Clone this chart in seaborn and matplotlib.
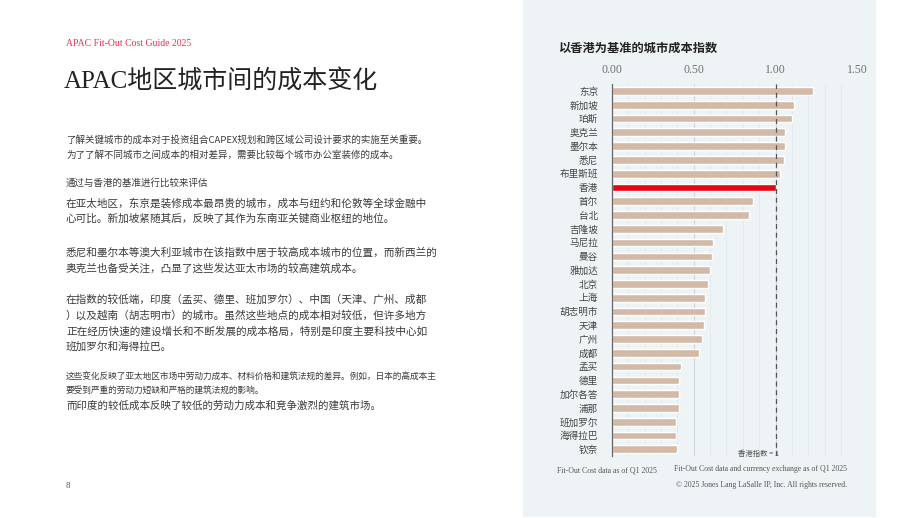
import numpy as np
import pandas as pd
import seaborn as sns
from matplotlib import pyplot as plt
from matplotlib.patches import Rectangle
from matplotlib.ticker import MultipleLocator

# City cost index, Hong Kong = 1
cities = ['东京', '新加坡', '珀斯', '奥克兰', '墨尔本', '悉尼', '布里斯班', '香港',
          '首尔', '台北', '吉隆坡', '马尼拉', '曼谷', '雅加达', '北京', '上海',
          '胡志明市', '天津', '广州', '成都', '孟买', '德里', '加尔各答', '浦那',
          '班加罗尔', '海得拉巴', '钦奈']
index_values = [1.23, 1.11, 1.10, 1.06, 1.06, 1.05, 1.03, 1.00,
                0.86, 0.84, 0.68, 0.62, 0.61, 0.60, 0.59, 0.57,
                0.57, 0.56, 0.55, 0.53, 0.42, 0.41, 0.41, 0.41,
                0.39, 0.39, 0.40]
x_ticks = [0.0, 0.5, 1.0, 1.5]
x_tick_labels = ['0.00', '0.50', '1.00', '1.50']

df = pd.DataFrame({'city': cities, 'index': index_values})

sns.set_theme(style="white")
plt.rcParams['font.family'] = ['Noto Sans CJK SC', 'DejaVu Sans']
serif = ['Liberation Serif', 'Noto Sans CJK SC']

W, H = 920, 518
fig = plt.figure(figsize=(W / 100, H / 100), dpi=100)
fig.patch.set_facecolor('white')

def fy(y):
    return 1 - y / H

def fx(x):
    return x / W

# right panel background
fig.patches.append(Rectangle((fx(523), fy(517)), fx(876) - fx(523), fy(0) - fy(517),
                             transform=fig.transFigure, facecolor='#eef4f6',
                             edgecolor='none', zorder=-5))

# ---- left side text ----
fig.text(fx(66), fy(43), 'APAC Fit-Out Cost Guide 2025', color='#e8334a',
         fontsize=7, family=serif, va='center')
fig.text(fx(64), fy(81), 'APAC地区城市间的成本变化', color='#222222',
         fontsize=18, family=serif, va='center')

body = '#3a3a3a'
lines = [
    (140, '了解关键城市的成本对于投资组合CAPEX规划和跨区域公司设计要求的实施至关重要。', 6.8),
    (155, '为了了解不同城市之间成本的相对差异，需要比较每个城市办公室装修的成本。', 6.8),
    (183, '通过与香港的基准进行比较来评估', 6.8),
    (203, '在亚太地区，东京是装修成本最昂贵的城市，成本与纽约和伦敦等全球金融中', 7.65),
    (219, '心可比。新加坡紧随其后，反映了其作为东南亚关键商业枢纽的地位。', 7.65),
    (252, '悉尼和墨尔本等澳大利亚城市在该指数中居于较高成本城市的位置，而新西兰的', 7.65),
    (268, '奥克兰也备受关注，凸显了这些发达亚太市场的较高建筑成本。', 7.65),
    (299, '在指数的较低端，印度（孟买、德里、班加罗尔）、中国（天津、广州、成都', 7.65),
    (315, '）以及越南（胡志明市）的城市。虽然这些地点的成本相对较低，但许多地方', 7.65),
    (331, '正在经历快速的建设增长和不断发展的成本格局，特别是印度主要科技中心如', 7.65),
    (347, '班加罗尔和海得拉巴。', 7.65),
    (376, '这些变化反映了亚太地区市场中劳动力成本、材料价格和建筑法规的差异。例如，日本的高成本主', 6.25),
    (390, '要受到严重的劳动力短缺和严格的建筑法规的影响。', 6.25),
    (406, '而印度的较低成本反映了较低的劳动力成本和竞争激烈的建筑市场。', 7.55),
]
for y, s, size in lines:
    fig.text(fx(66), fy(y), s, color=body, fontsize=size, va='center')
fig.text(fx(66), fy(486), '8', color='#555555', fontsize=6.5, family=serif, va='center')

# ---- chart ----
ax = fig.add_axes([fx(612), fy(456.2), fx(857.3) - fx(612), fy(84.1) - fy(456.2)])
ax.set_facecolor('none')
ax.set_zorder(2)

colors = ['#e30613' if c == '香港' else '#d3b9a7' for c in cities]
sns.barplot(data=df, x='index', y='city', hue='city', palette=colors,
            legend=False, width=0.56, ax=ax, saturation=1)

ax.set_xlim(0, 1.5)
ax.xaxis.tick_top()
ax.set_xticks(x_ticks)
ax.set_xticklabels(x_tick_labels, family=serif, fontsize=8.5, color='#707070')
ax.xaxis.set_minor_locator(MultipleLocator(0.1))
ax.tick_params(axis='x', which='both', length=0, pad=6)
ax.tick_params(axis='y', length=0, pad=10, labelsize=6.9, labelcolor='#444444')
ax.set_xlabel('')
ax.set_ylabel('')

ax.grid(axis='x', which='minor', color='#e2e9eb', linewidth=0.6)
ax.grid(axis='x', which='major', color='#cfd6d9', linewidth=0.8)
ax.set_axisbelow(True)
for side in ['top', 'right', 'bottom']:
    ax.spines[side].set_visible(False)
ax.spines['left'].set_color('#666666')
ax.spines['left'].set_linewidth(0.9)

ax.axvline(1.0, color='#555555', linestyle=(0, (4, 3)), linewidth=0.9, zorder=3)
ax.text(1.02, 26.35, '香港指数 = 1', fontsize=5.3, color='#555555',
        ha='right', va='center')

fig.text(fx(558), fy(48), '以香港为基准的城市成本指数', fontsize=8.8,
         fontweight='bold', color='#222222', va='center')

fig.text(fx(557), fy(471), 'Fit-Out Cost data as of Q1 2025', fontsize=5.6,
         family=serif, color='#555555', va='center')
fig.text(fx(674), fy(469), 'Fit-Out Cost data and currency exchange as of Q1 2025',
         fontsize=5.6, family=serif, color='#555555', va='center')
fig.text(fx(676), fy(485), '© 2025 Jones Lang LaSalle IP, Inc. All rights reserved.',
         fontsize=5.6, family=serif, color='#555555', va='center')

plt.savefig('out.png', dpi=100)
